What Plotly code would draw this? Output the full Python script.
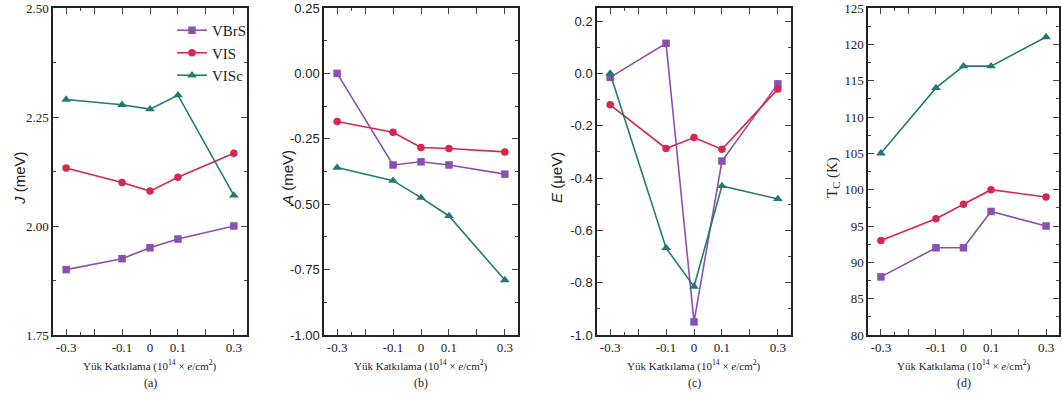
import plotly.graph_objects as go

x_vals = [-0.3, -0.1, 0.0, 0.1, 0.3]
series_names = ["VBrS", "VIS", "VISc"]

J_VBrS = [1.90, 1.925, 1.95, 1.97, 2.00]
J_VIS = [2.133, 2.10, 2.08, 2.112, 2.167]
J_VISc = [2.29, 2.278, 2.268, 2.30, 2.07]

A_VBrS = [0.00, -0.35, -0.338, -0.35, -0.385]
A_VIS = [-0.184, -0.225, -0.283, -0.287, -0.30]
A_VISc = [-0.36, -0.41, -0.475, -0.545, -0.79]

E_VBrS = [-0.015, 0.115, -0.95, -0.335, -0.04]
E_VIS = [-0.12, -0.287, -0.245, -0.29, -0.06]
E_VISc = [0.0, -0.667, -0.815, -0.43, -0.48]

Tc_VBrS = [88, 92, 92, 97, 95]
Tc_VIS = [93, 96, 98, 100, 99]
Tc_VISc = [105, 114, 117, 117, 121]

x_tick_vals = [-0.3, -0.2, -0.1, 0.0, 0.1, 0.2, 0.3]
x_tick_text = ["-0.3", "", "-0.1", "0", "0.1", "", "0.3"]
x_minor_vals = [-0.25]

panels = [
    dict(data=[J_VBrS, J_VIS, J_VISc], yrange=[1.75, 2.50], ytick=[1.75, 2.00, 2.25, 2.50],
         ytext=["1.75", "2.00", "2.25", "2.50"], yminor=[1.875, 2.125, 2.375],
         ytitle="<i>J</i> (meV)", label="(a)", tickfont="Liberation Serif", titlefont="Liberation Sans"),
    dict(data=[A_VBrS, A_VIS, A_VISc], yrange=[-1.0, 0.25], ytick=[-1.0, -0.75, -0.5, -0.25, 0.0, 0.25],
         ytext=["-1.00", "-0.75", "-0.50", "-0.25", "0.00", "0.25"], yminor=[-0.875, -0.625, -0.375, -0.125, 0.125],
         ytitle="<i>A</i> (meV)", label="(b)", tickfont="Liberation Sans", titlefont="Liberation Sans"),
    dict(data=[E_VBrS, E_VIS, E_VISc], yrange=[-1.0, 0.25], ytick=[-1.0, -0.8, -0.6, -0.4, -0.2, 0.0, 0.2],
         ytext=["-1.0", "-0.8", "-0.6", "-0.4", "-0.2", "0.0", "0.2"], yminor=[-0.9, -0.7, -0.5, -0.3, -0.1, 0.1],
         ytitle="<i>E</i> (μeV)", label="(c)", tickfont="Liberation Sans", titlefont="Liberation Sans"),
    dict(data=[Tc_VBrS, Tc_VIS, Tc_VISc], yrange=[80, 125], ytick=[80, 85, 90, 95, 100, 105, 110, 115, 120, 125],
         ytext=["80", "85", "90", "95", "100", "105", "110", "115", "120", "125"],
         yminor=[82.5, 87.5, 92.5, 97.5, 102.5, 107.5, 112.5, 117.5, 122.5],
         ytitle="T<sub>C</sub> (K)", label="(d)", tickfont="Liberation Serif", titlefont="Liberation Serif"),
]

colors = ["#8b4fb3", "#d8264f", "#227a72"]
symbols = ["square", "circle", "triangle-up"]
msizes = [7.5, 7.5, 8.5]

W, H = 1062, 396
x_px = [(53, 247), (324, 518), (597, 791), (868, 1059)]
ytitle_px = [19, 287, 556, 833]
y_dom = [1 - 335 / H, 1 - 8 / H]

fig = go.Figure()
annotations = []
layout = {}
for i, p in enumerate(panels):
    n = "" if i == 0 else str(i + 1)
    xa, ya = "x" + n, "y" + n
    for s in range(3):
        fig.add_trace(go.Scatter(
            x=x_vals, y=p["data"][s], mode="lines+markers", name=series_names[s],
            xaxis=xa, yaxis=ya, showlegend=(i == 0),
            line=dict(color=colors[s], width=1.6),
            marker=dict(symbol=symbols[s], size=msizes[s], color=colors[s]),
        ))
    dom = [x_px[i][0] / W, x_px[i][1] / W]
    layout["xaxis" + n] = dict(
        domain=dom, anchor=ya, range=[-0.347, 0.347], tickmode="array",
        tickvals=x_tick_vals, ticktext=x_tick_text, ticks="inside", ticklen=6,
        showline=True, linecolor="#222", linewidth=1.5, mirror="ticks",
        showgrid=False, zeroline=False, automargin=False,
        tickfont=dict(family="Liberation Serif", size=13, color="#222"),
        minor=dict(tickvals=x_minor_vals, ticks="inside", ticklen=3, showgrid=False),
    )
    layout["yaxis" + n] = dict(
        domain=y_dom, anchor=xa, range=p["yrange"], tickmode="array",
        tickvals=p["ytick"], ticktext=p["ytext"], ticks="inside", ticklen=6,
        showline=True, linecolor="#222", linewidth=1.5, mirror="ticks",
        showgrid=False, zeroline=False, automargin=False,
        tickfont=dict(family=p["tickfont"], size=13, color="#222"),
        minor=dict(tickvals=p["yminor"], ticks="inside", ticklen=3, showgrid=False),
    )
    cx = (x_px[i][0] + x_px[i][1]) / 2 / W
    annotations.append(dict(
        text="Yük Katkılama (10<sup>14</sup> × <i>e</i>/cm<sup>2</sup>)", x=cx, y=1 - 365 / H,
        xref="paper", yref="paper", showarrow=False, xanchor="center", yanchor="middle",
        font=dict(family="Liberation Serif", size=11, color="#222")))
    annotations.append(dict(
        text=p["label"], x=cx, y=1 - 383 / H, xref="paper", yref="paper", showarrow=False,
        xanchor="center", yanchor="middle",
        font=dict(family="Liberation Serif", size=12, color="#222")))
    annotations.append(dict(
        text=p["ytitle"], x=ytitle_px[i] / W, y=1 - 178 / H, xref="paper", yref="paper",
        showarrow=False, textangle=-90, xanchor="center", yanchor="middle",
        font=dict(family=p["titlefont"], size=15, color="#222")))

fig.update_layout(
    **layout,
    annotations=annotations,
    width=W, height=H,
    margin=dict(l=0, r=0, t=0, b=0, autoexpand=False),
    paper_bgcolor="white", plot_bgcolor="white",
    showlegend=True,
    legend=dict(x=172 / W, y=1 - 14 / H, xanchor="left", yanchor="top",
                bgcolor="rgba(0,0,0,0)", font=dict(family="Liberation Serif", size=15, color="#222"),
                tracegroupgap=0, itemwidth=30),
)

fig.write_html("out.html", config={"displayModeBar": False},
               post_script="document.body.style.margin='0';document.body.style.overflow='hidden';")
